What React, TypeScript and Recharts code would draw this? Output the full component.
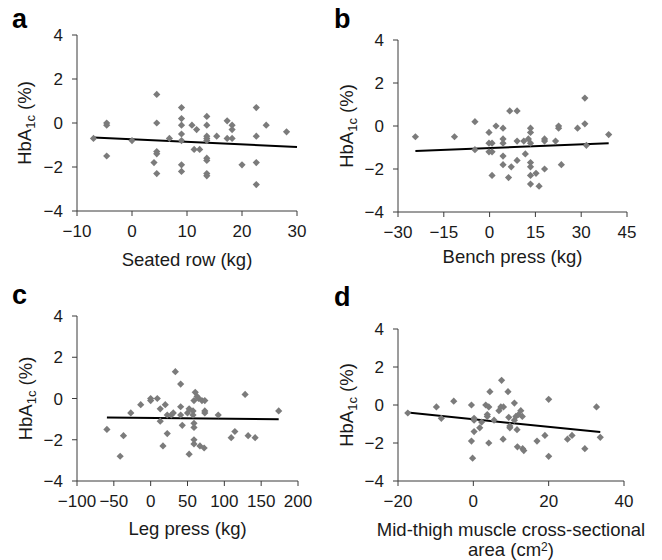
import React from 'react';
import { ScatterChart, Scatter, XAxis, YAxis, ReferenceLine, Label } from 'recharts';

// [x, HbA1c change] pairs
const seatedRow: [number, number][] = [
  [-7, -0.7], [-4.6, 0], [-4.6, -0.1], [-4.6, -1.5], [0, -0.8],
  [4.5, 1.3], [4.5, 0], [4.5, -1.3], [4.5, -1.4], [4.0, -1.8], [4.5, -2.3],
  [6.8, -0.7], [9, 0.7], [9, 0.2], [9, -0.1], [9, -0.5], [9, -0.8], [9, -1.9], [9, -2.2],
  [10.9, -0.1], [11.75, -0.3], [11.3, -1.2], [12.3, -1.2],
  [13.6, 0.3], [13.6, -0.1], [13.6, -0.6], [13.6, -0.7], [13.6, -0.8], [13.6, -1.6],
  [13.6, -1.7], [13.6, -2.3], [13.6, -2.4], [15.4, -0.6], [17.3, 0.1], [17.3, -0.7],
  [18.2, -0.1], [18.2, -0.3], [18.2, -0.7], [20, -1.9],
  [22.6, 0.7], [22.6, -0.6], [22.6, -1.8], [22.6, -2.8], [24.4, -0.1], [28.1, -0.4],
];
const seatedRowFit: [number, number][] = [[-7, -0.66], [30, -1.09]];

const benchPress: [number, number][] = [
  [-24.3, -0.5], [-11.5, -0.5], [-4.8, 0.2], [-4.8, -1.1], [-0.2, -0.3], [-0.2, -0.8],
  [-0.2, -1.2], [0.8, -0.8], [0.8, -1.2], [0.8, -2.3], [2.1, 0], [4.4, -0.1], [4.4, -0.6],
  [4.4, -0.8], [4.4, -1.4], [4.4, -1.8], [6.6, 0.7], [9.0, 0.7], [6.2, -2.4], [7.1, -1.9],
  [9.0, -0.7], [9.0, -1.6], [11.2, -0.7], [11.7, -1.3], [12.7, -0.6], [13.4, -0.1],
  [13.4, -0.3], [13.4, -0.8], [13.4, -1.7], [13.4, -1.9], [13.4, -2.3], [13.4, -2.7],
  [15.2, -2.2], [16.2, -2.8], [18, -0.6], [18, -0.7], [18, -2.0], [21.6, -0.7],
  [22.6, 0], [22.6, -0.1], [23.5, -1.8], [28.8, -0.1], [31.2, 1.3], [31.2, 0.1],
  [31.7, -0.9], [39, -0.4],
];
const benchPressFit: [number, number][] = [[-24.3, -1.16], [39, -0.8]];

const legPress: [number, number][] = [
  [-59.4, -1.5], [-41.4, -2.8], [-36.9, -1.8], [-27, -0.7], [-13.5, -0.3], [0, 0], [0, -0.1],
  [9, 0], [13, -0.5], [13, -1.1], [16.7, -2.3], [19.8, -0.3], [22.5, -1.7], [22.5, -0.8],
  [28, -0.8], [30.7, -0.7], [33.5, 1.3], [40.7, 0.7], [40.7, -0.4], [40.7, -0.8], [42.9, -1.3],
  [50, -0.7], [52.2, -0.5], [52.2, -2.7], [57.5, -0.8], [57.5, -0.6], [58.8, -0.1],
  [58.8, -1.2], [58.8, -1.4], [58.8, -2.0], [58.8, -2.2], [60.5, 0.3], [63, 0.1], [65, 0],
  [66.9, -2.3], [69.6, -0.1], [72.6, -2.4], [73.5, -0.1], [73.5, -0.6], [73.5, -0.7],
  [91.7, -0.8], [109.3, -1.9], [114.3, -1.6], [128.2, 0.2], [132.3, -1.8], [141.8, -1.9],
  [173.8, -0.6],
];
const legPressFit: [number, number][] = [[-59.4, -0.92], [173.8, -1.01]];

const thighArea: [number, number][] = [
  [-17.4, -0.42], [-9.8, -0.1], [-8.5, -0.7], [-5.2, 0.2], [-0.5, 0], [-0.5, -1.9],
  [-0.2, -2.8], [0.2, -0.7], [0.2, -0.8], [0.2, -1.4], [1.7, -1.2], [2.2, -0.9], [3.3, 0],
  [3.7, -0.5], [3.7, -0.6], [4.1, -0.1], [4.1, -2.0], [4.4, 0.7], [5.5, -0.8], [6.8, -0.3],
  [7.3, -0.1], [7.5, 1.3], [8, -0.1], [7.9, -1.8], [9.2, 0.7], [9.4, -0.65], [9.7, -1.1],
  [9.7, -1.2], [10.9, 0.1], [10.9, -0.8], [11.3, -0.6], [11.6, -1.3], [11.7, -2.2],
  [12, -0.5], [12.6, -0.3], [13, -0.6], [13.1, -2.3], [13.4, -2.4], [16.9, -1.9],
  [19, -1.6], [20, 0.3], [20, -2.7], [25, -1.8], [26.2, -1.6], [29.6, -2.3], [32.7, -0.1],
  [33.7, -1.7],
];
const thighAreaFit: [number, number][] = [[-17.4, -0.4], [33.7, -1.42]];

const yTicks = [-4, -2, 0, 2, 4];

const FONT = '"Liberation Sans", Arial, Helvetica, sans-serif';
const AXIS = '#3a3a3a';
const TEXT = '#1a1a1a';
const DOT = '#7b7b7b';
const TICK_FS = 17;
const LABEL_FS = 18.5;

const minus = (v: number) => String(v).replace('-', '\u2212');

const Diamond = (props: any) => {
  const { cx, cy } = props;
  if (cx == null || cy == null) return null;
  const r = 3.6;
  return <path d={`M${cx},${cy - r}L${cx + r},${cy}L${cx},${cy + r}L${cx - r},${cy}Z`} fill={DOT} />;
};

interface PanelProps {
  letter: string;
  letterPos: { left: number; top: number };
  points: [number, number][];
  fit: [number, number][];
  xDomain: [number, number];
  xTicks: number[];
  xLabel: string[];
  left: number;
  top: number;
  width: number;
  height: number;
  plot: { l: number; t: number; r: number; b: number };
  xLabelOffset: number;
  yLabelOffset: number;
}

const Panel: React.FC<PanelProps> = (p) => {
  const data = p.points.map(([x, y]) => ({ x, y }));
  const pl = p.plot.l - p.left;
  const pt = p.plot.t - p.top;
  const pr = p.plot.r - p.left;
  const pb = p.plot.b - p.top;
  const cx = (pl + pr) / 2;
  const cy = (pt + pb) / 2;
  const yx = pl - p.yLabelOffset;

  return (
    <div style={{ position: 'absolute', left: p.left, top: p.top }}>
      <ScatterChart
        width={p.width}
        height={p.height}
        margin={{ top: pt, right: p.width - pr, left: 0, bottom: 0 }}
      >
        <XAxis
          type="number"
          dataKey="x"
          domain={p.xDomain}
          ticks={p.xTicks}
          interval={0}
          height={p.height - pb}
          tickSize={5}
          tickMargin={9}
          stroke={AXIS}
          tick={{ fill: TEXT, fontSize: TICK_FS }}
          tickFormatter={minus}
        >
          <Label
            content={() => (
              <text x={cx} y={pb + p.xLabelOffset} textAnchor="middle" fill={TEXT} fontSize={LABEL_FS}>
                {p.xLabel.map((line, i) => (
                  <tspan key={i} x={cx} dy={i === 0 ? 0 : 20}>
                    {line === 'area (cm2)' ? (
                      <>
                        area (cm<tspan dy={-5} fontSize={12}>2</tspan>
                        <tspan dy={5}>)</tspan>
                      </>
                    ) : (
                      line
                    )}
                  </tspan>
                ))}
              </text>
            )}
          />
        </XAxis>
        <YAxis
          type="number"
          dataKey="y"
          domain={[-4, 4]}
          ticks={yTicks}
          interval={0}
          width={pl}
          tickSize={5}
          tickMargin={9}
          stroke={AXIS}
          tick={{ fill: TEXT, fontSize: TICK_FS }}
          tickFormatter={minus}
        >
          <Label
            content={() => (
              <text
                x={yx}
                y={cy}
                transform={`rotate(-90 ${yx} ${cy})`}
                textAnchor="middle"
                fill={TEXT}
                fontSize={LABEL_FS}
              >
                HbA
                <tspan dy={4} fontSize={13}>1c</tspan>
                <tspan dy={-4}> (%)</tspan>
              </text>
            )}
          />
        </YAxis>
        <Scatter data={data} shape={<Diamond />} isAnimationActive={false} />
        <ReferenceLine
          segment={p.fit.map(([x, y]) => ({ x, y }))}
          stroke="#000"
          strokeWidth={2}
        />
      </ScatterChart>
      <div
        style={{
          position: 'absolute',
          left: p.letterPos.left,
          top: p.letterPos.top,
          fontSize: 27,
          fontWeight: 'bold',
          lineHeight: '27px',
          color: '#000',
        }}
      >
        {p.letter}
      </div>
    </div>
  );
};

export default function App() {
  return (
    <div
      style={{
        position: 'absolute',
        left: 0,
        top: 0,
        width: 662,
        height: 560,
        background: '#fff',
        fontFamily: FONT,
      }}
    >
      <Panel
        letter="a"
        letterPos={{ left: 12, top: 6 }}
        points={seatedRow}
        fit={seatedRowFit}
        xDomain={[-10, 30]}
        xTicks={[-10, 0, 10, 20, 30]}
        xLabel={['Seated row (kg)']}
        left={0}
        top={0}
        width={331}
        height={285}
        plot={{ l: 77, t: 35, r: 297, b: 211 }}
        xLabelOffset={55}
        yLabelOffset={46}
      />
      <Panel
        letter="b"
        letterPos={{ left: 3, top: 6 }}
        points={benchPress}
        fit={benchPressFit}
        xDomain={[-30, 45]}
        xTicks={[-30, -15, 0, 15, 30, 45]}
        xLabel={['Bench press (kg)']}
        left={331}
        top={0}
        width={331}
        height={285}
        plot={{ l: 398, t: 40, r: 627, b: 212 }}
        xLabelOffset={51}
        yLabelOffset={45}
      />
      <Panel
        letter="c"
        letterPos={{ left: 12, top: -3 }}
        points={legPress}
        fit={legPressFit}
        xDomain={[-100, 200]}
        xTicks={[-100, -50, 0, 50, 100, 150, 200]}
        xLabel={['Leg press (kg)']}
        left={0}
        top={285}
        width={331}
        height={275}
        plot={{ l: 77, t: 316, r: 298, b: 481 }}
        xLabelOffset={54}
        yLabelOffset={45}
      />
      <Panel
        letter="d"
        letterPos={{ left: 3, top: -1 }}
        points={thighArea}
        fit={thighAreaFit}
        xDomain={[-20, 40]}
        xTicks={[-20, 0, 20, 40]}
        xLabel={['Mid-thigh muscle cross-sectional', 'area (cm2)']}
        left={331}
        top={285}
        width={331}
        height={275}
        plot={{ l: 398, t: 329, r: 624, b: 481 }}
        xLabelOffset={55}
        yLabelOffset={45}
      />
    </div>
  );
}
